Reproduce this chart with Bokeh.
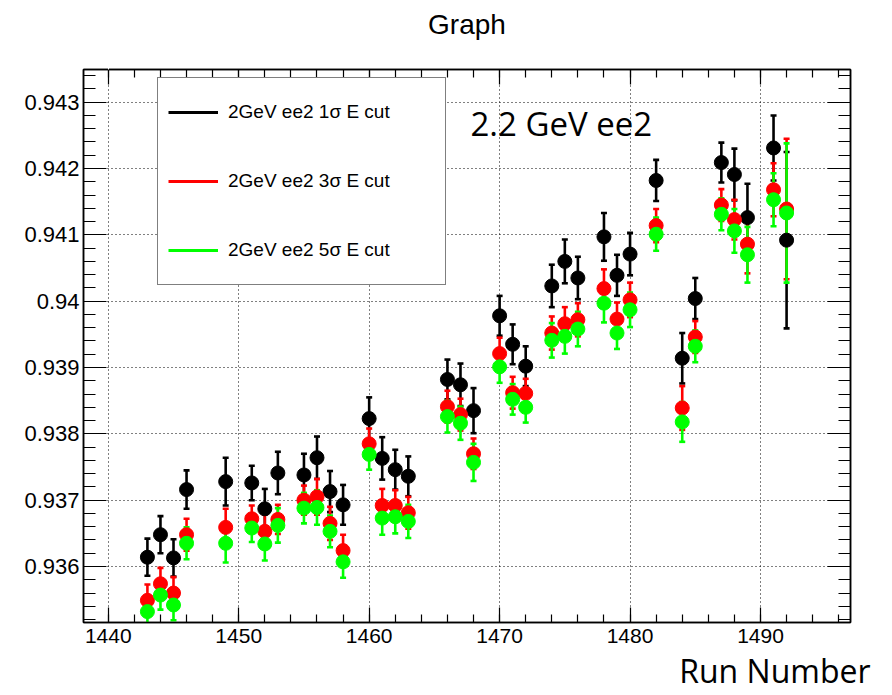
from bokeh.plotting import figure
from bokeh.models import (Range1d, FixedTicker, LinearAxis, Whisker, TeeHead,
                          ColumnDataSource, Legend, LegendItem, Label, Title,
                          CustomJSTickFormatter)
from bokeh.embed import file_html
from bokeh.resources import INLINE

# ---------------- data ----------------
runs = [1443, 1444, 1445, 1446, 1449, 1451, 1452, 1453, 1455, 1456, 1457, 1458,
        1460, 1461, 1462, 1463, 1466, 1467, 1468, 1470, 1471, 1472, 1474, 1475,
        1476, 1478, 1479, 1480, 1482, 1484, 1485, 1487, 1488, 1489, 1491, 1492]

cut1_vals = [0.93614, 0.93648, 0.93613, 0.93716, 0.93728, 0.93726, 0.93687, 0.93741,
             0.93738, 0.93764, 0.93713, 0.93693, 0.93823, 0.93763, 0.93746, 0.93736,
             0.93882, 0.93874, 0.93835, 0.93978, 0.93935, 0.93902, 0.94023, 0.94060,
             0.94035, 0.94097, 0.94039, 0.94071, 0.94182, 0.93914, 0.94004, 0.94209,
             0.94191, 0.94126, 0.94231, 0.94092]
cut1_errs = [0.00028, 0.00028, 0.00028, 0.00029, 0.00036, 0.00026, 0.00030, 0.00032,
             0.00032, 0.00032, 0.00031, 0.00030, 0.00032, 0.00032, 0.00030, 0.00030,
             0.00030, 0.00032, 0.00034, 0.00030, 0.00030, 0.00030, 0.00032, 0.00033,
             0.00032, 0.00036, 0.00031, 0.00032, 0.00031, 0.00038, 0.00031, 0.00030,
             0.00039, 0.00051, 0.00049, 0.00133]

cut3_vals = [0.93549, 0.93574, 0.93560, 0.93648, 0.93659, 0.93672, 0.93653, 0.93671,
             0.93700, 0.93705, 0.93665, 0.93624, 0.93785, 0.93692, 0.93692, 0.93681,
             0.93841, 0.93829, 0.93770, 0.93921, 0.93862, 0.93861, 0.93952, 0.93966,
             0.93972, 0.94019, 0.93973, 0.94002, 0.94114, 0.93839, 0.93946, 0.94145,
             0.94123, 0.94086, 0.94168, 0.94139]
cut3_errs = [0.00024, 0.00024, 0.00024, 0.00024, 0.00028, 0.00020, 0.00025, 0.00022,
             0.00022, 0.00027, 0.00025, 0.00024, 0.00023, 0.00025, 0.00023, 0.00024,
             0.00024, 0.00024, 0.00023, 0.00024, 0.00024, 0.00022, 0.00025, 0.00025,
             0.00025, 0.00029, 0.00025, 0.00026, 0.00025, 0.00033, 0.00024, 0.00024,
             0.00030, 0.00044, 0.00040, 0.00106]

cut5_vals = [0.93532, 0.93557, 0.93542, 0.93635, 0.93635, 0.93658, 0.93634, 0.93662,
             0.93688, 0.93689, 0.93653, 0.93607, 0.93769, 0.93673, 0.93675, 0.93668,
             0.93826, 0.93816, 0.93757, 0.93901, 0.93852, 0.93840, 0.93941, 0.93947,
             0.93958, 0.93997, 0.93952, 0.93987, 0.94101, 0.93818, 0.93932, 0.94131,
             0.94106, 0.94070, 0.94153, 0.94133]
cut5_errs = [0.00021, 0.00022, 0.00023, 0.00024, 0.00029, 0.00021, 0.00025, 0.00026,
             0.00023, 0.00026, 0.00024, 0.00024, 0.00023, 0.00025, 0.00025, 0.00025,
             0.00024, 0.00025, 0.00028, 0.00024, 0.00023, 0.00023, 0.00026, 0.00026,
             0.00026, 0.00029, 0.00024, 0.00026, 0.00025, 0.00030, 0.00024, 0.00024,
             0.00033, 0.00042, 0.00040, 0.00105]

series_labels = ["2GeV ee2 1\u03c3 E cut", "2GeV ee2 3\u03c3 E cut", "2GeV ee2 5\u03c3 E cut"]

x_major = [1440, 1450, 1460, 1470, 1480, 1490]
x_minor = list(range(1438, 1498, 2))
y_major = [0.936, 0.937, 0.938, 0.939, 0.940, 0.941, 0.942, 0.943]
y_major_labels = ["0.936", "0.937", "0.938", "0.939", "0.94", "0.941", "0.942", "0.943"]
y_minor = [round(0.9352 + 0.0002 * i, 4) for i in range(42)]

title_text = "Graph"
x_title = "Run Number"
note_text = "2.2 GeV ee2"

# ---------------- layout ----------------
W, H = 892, 695
FL, FR, FT, FB = 83, 850, 69, 622
X_MIN, X_MAX = 1438.1, 1496.9
Y_MIN, Y_MAX = 0.935156, 0.943493

def px_x(px):
    return X_MIN + (px - FL) * (X_MAX - X_MIN) / (FR - FL)

def px_y(py):
    return Y_MAX - (py - FT) * (Y_MAX - Y_MIN) / (FB - FT)

p = figure(width=W, height=H, x_range=Range1d(X_MIN, X_MAX), y_range=Range1d(Y_MIN, Y_MAX),
           output_backend="svg", toolbar_location=None, title=None,
           min_border_left=FL, min_border_right=W - FR, min_border_top=FT,
           min_border_bottom=H - FB)
p.background_fill_color = "white"
p.border_fill_color = "white"
p.outline_line_color = "black"
p.outline_line_width = 1.5

xticker = FixedTicker(ticks=x_major, minor_ticks=x_minor)
yticker = FixedTicker(ticks=y_major, minor_ticks=y_minor)

TICK_FONT = "Liberation Sans"

def style_axis(ax, ticker, major_in, minor_in, labels=True):
    ax.ticker = ticker
    ax.major_tick_in = major_in
    ax.major_tick_out = 0
    ax.minor_tick_in = minor_in
    ax.minor_tick_out = 0
    ax.axis_line_color = "black"
    ax.axis_line_width = 1.5
    ax.major_tick_line_color = "black"
    ax.minor_tick_line_color = "black"
    ax.major_tick_line_width = 1.2
    ax.minor_tick_line_width = 1.2
    if labels:
        ax.major_label_text_font = TICK_FONT
        ax.major_label_text_font_size = "21px"
        ax.major_label_text_color = "black"
    else:
        ax.formatter = CustomJSTickFormatter(code="return ''")
        ax.major_label_standoff = 0

def spacer_axis(gap):
    # an axis drawn white on white that only reserves `gap` pixels in a side panel
    ax = LinearAxis(ticker=FixedTicker(ticks=[x_major[0]], minor_ticks=[]))
    ax.major_tick_out = gap
    ax.major_tick_in = 0
    ax.minor_tick_out = 0
    ax.minor_tick_in = 0
    ax.major_label_standoff = 0
    ax.axis_line_color = None
    ax.major_tick_line_color = "white"
    ax.major_tick_line_width = 1
    ax.minor_tick_line_color = None
    ax.formatter = CustomJSTickFormatter(code="return ''")
    return ax

style_axis(p.below[0], xticker, 15, 8)
p.below[0].major_label_standoff = 6
style_axis(p.left[0], yticker, 23, 12)
p.left[0].major_label_text_font_size = "22px"
p.left[0].major_label_standoff = 4
p.left[0].major_label_overrides = {v: s for v, s in zip(y_major, y_major_labels)}

top_ax = LinearAxis()
style_axis(top_ax, xticker, 15, 8, labels=False)
p.add_layout(top_ax, "above")
right_ax = LinearAxis()
style_axis(right_ax, yticker, 23, 12, labels=False)
p.add_layout(right_ax, "right")

for g in (p.xgrid[0], p.ygrid[0]):
    g.grid_line_color = "black"
    g.grid_line_dash = "1 3"
    g.grid_line_width = 1

# ---------------- series ----------------
colors = ["#000000", "#ff0000", "#00ff00"]
all_vals = [cut1_vals, cut3_vals, cut5_vals]
all_errs = [cut1_errs, cut3_errs, cut5_errs]

legend_renderers = []
for vals, errs, col in zip(all_vals, all_errs, colors):
    src = ColumnDataSource(dict(
        x=runs, y=vals,
        upper=[v + e for v, e in zip(vals, errs)],
        lower=[v - e for v, e in zip(vals, errs)]))
    w = Whisker(source=src, base="x", upper="upper", lower="lower", dimension="height",
                line_color=col, line_width=2.6,
                upper_head=TeeHead(size=6, line_color=col, line_width=2.6),
                lower_head=TeeHead(size=6, line_color=col, line_width=2.6))
    p.add_layout(w)
    p.scatter("x", "y", source=src, size=14, marker="circle",
              fill_color=col, line_color=col)
    # legend-only line (no drawable points in the plot)
    legend_renderers.append(p.line(x=[float("nan")], y=[float("nan")],
                                   line_color=col, line_width=3))

legend = Legend(items=[LegendItem(label=lab, renderers=[r])
                       for lab, r in zip(series_labels, legend_renderers)],
                location=(74, 337), margin=0, padding=10, spacing=21,
                glyph_height=48, glyph_width=50, label_height=48, label_width=207,
                label_standoff=10, label_text_font=TICK_FONT,
                label_text_font_size="19px", label_text_color="black",
                border_line_color="black", border_line_width=1,
                background_fill_color="white", background_fill_alpha=1.0)
p.add_layout(legend)

# ---------------- texts ----------------
p.add_layout(spacer_axis(26), "above")
p.add_layout(Title(text=title_text, align="center", vertical_align="bottom",
                   text_font=TICK_FONT, text_font_size="28px", text_font_style="normal",
                   text_color="black", standoff=8), "above")
p.add_layout(spacer_axis(7), "below")
p.add_layout(Title(text=x_title, align="right", vertical_align="bottom",
                   text_font="Open Sans", text_font_size="32px", text_font_style="normal",
                   text_color="black", offset=-20, standoff=-12), "below")
p.add_layout(Label(x=px_x(470), y=px_y(123), text=note_text, text_align="left",
                   text_baseline="alphabetic", text_font="Open Sans",
                   text_font_size="33px", text_color="black"))

open("out.html", "w").write(file_html(p, INLINE))
